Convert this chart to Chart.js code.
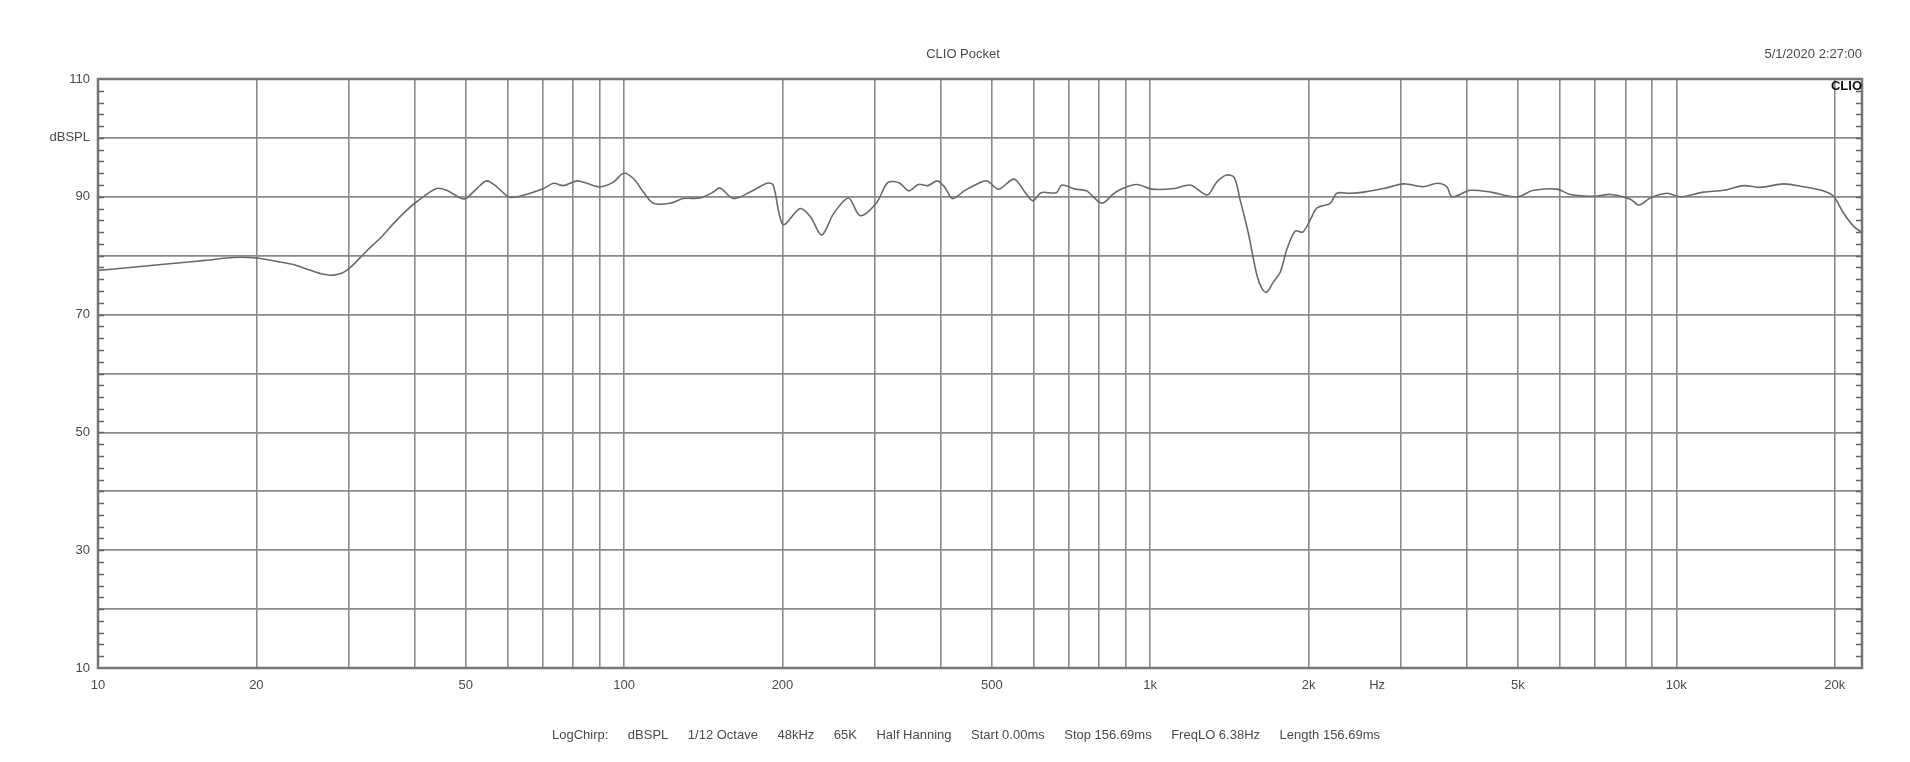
<!DOCTYPE html>
<html>
<head>
<meta charset="utf-8">
<title>CLIO Pocket</title>
<script src="https://cdn.jsdelivr.net/npm/chart.js@4.4.1/dist/chart.umd.min.js"></script>
<style>
  html, body { margin: 0; padding: 0; background: #fff; }
  canvas { display: block; }
</style>
</head>
<body>
<canvas id="resp" width="1910" height="762"></canvas>
<script>
// header / footer text
const chartTitle = 'CLIO Pocket';
const stampText = '5/1/2020 2:27:00';
const brandText = 'CLIO';
const infoItems = ['LogChirp:', 'dBSPL', '1/12 Octave', '48kHz', '65K', 'Half Hanning',
  'Start 0.00ms', 'Stop 156.69ms', 'FreqLO 6.38Hz', 'Length 156.69ms'];

// axes
const freqMin = 10;
const freqMax = 22540;
const gridFreqs = [10, 20, 30, 40, 50, 60, 70, 80, 90,
  100, 200, 300, 400, 500, 600, 700, 800, 900,
  1000, 2000, 3000, 4000, 5000, 6000, 7000, 8000, 9000,
  10000, 20000];
const freqLabelValues = [10, 20, 50, 100, 200, 500, 1000, 2000, 5000, 10000, 20000];
const freqLabelTexts = ['10', '20', '50', '100', '200', '500', '1k', '2k', '5k', '10k', '20k'];
const hzLabelFreq = 2700;
const splMin = 10;
const splMax = 110;
const splLabelValues = [10, 30, 50, 70, 90, 100, 110];
const splLabelTexts = ['10', '30', '50', '70', '90', 'dBSPL', '110'];

// response curve
const freqs = [10, 11.5, 13.5, 16, 18.1, 20, 22, 23.5, 25, 26.4, 28, 29.7, 32.4, 34.4, 36.4, 38.5, 40.4,
  44, 46, 48.8, 50, 52.5, 54.8, 57.3, 60.3, 63.4, 70.3, 73.4, 76.7, 81.3, 84.9, 90, 95.4, 99.8,
  104.2, 108.8, 113.7, 122.2, 129.6, 139.4, 147.8, 152.2, 161.3, 173.6, 186.8, 192, 200.5, 216, 226,
  237.5, 250, 267, 281, 302, 317, 333, 347.6, 362.5, 378, 394, 407, 421, 443, 474, 490, 515, 551,
  579, 599, 620, 663, 679, 720, 757, 809, 851, 880, 942, 1007, 1113, 1191, 1284, 1338, 1396, 1444,
  1483, 1536, 1595, 1631, 1665, 1716, 1767, 1819, 1887, 1950, 2015, 2075, 2199, 2264, 2399, 2544,
  2777, 3030, 3308, 3508, 3664, 3745, 4059, 4431, 4977, 5355, 5932, 6288, 7000, 7491, 8176, 8495,
  8925, 9600, 10180, 11270, 12300, 13430, 14450, 16000, 17460, 19050, 19900, 20800, 21730, 22540];
const spl = [77.5, 78.0, 78.6, 79.2, 79.7, 79.6, 79.0, 78.5, 77.7, 77.0, 76.7, 77.5, 80.8, 83.0, 85.4, 87.6, 89.2,
  91.4, 91.1, 89.8, 89.7, 91.4, 92.7, 91.7, 90.0, 90.1, 91.4, 92.3, 91.9, 92.7, 92.3, 91.7, 92.5, 94.0,
  93.1, 90.8, 88.9, 88.9, 89.7, 89.8, 90.8, 91.5, 89.7, 90.8, 92.3, 92.0, 85.3, 88.0, 86.6,
  83.5, 87.1, 89.8, 86.8, 89.0, 92.4, 92.4, 91.0, 92.1, 91.9, 92.7, 91.6, 89.7, 91.0, 92.4, 92.7, 91.3, 93.0,
  90.7, 89.3, 90.7, 90.7, 92.0, 91.3, 91.0, 88.9, 90.5, 91.3, 92.1, 91.3, 91.4, 92.0, 90.3, 92.5, 93.7, 93.3,
  89.4, 83.9, 76.7, 74.4, 73.8, 75.6, 77.2, 81.1, 84.2, 84.0, 86.1, 88.1, 88.9, 90.6, 90.6, 90.8,
  91.4, 92.2, 91.7, 92.3, 91.7, 90.0, 91.1, 90.8, 90.0, 91.1, 91.3, 90.4, 90.1, 90.4, 89.6, 88.6,
  89.8, 90.6, 90.0, 90.8, 91.1, 91.9, 91.6, 92.2, 91.7, 91.0, 90.1, 87.2, 85.0, 83.9];

const FONT = '"Liberation Sans", Arial, sans-serif';
const TEXT_COLOR = '#4a4a4a';
const GRID_COLOR = '#8a8a8a';

Chart.defaults.font.family = FONT;
Chart.defaults.font.size = 13;
Chart.defaults.color = TEXT_COLOR;

/**
 * Frame, inner minor ticks and all the loose text of the CLIO sheet
 */
const sheetPlugin = {
  id: 'clioSheet',
  beforeDraw(chart) {
    const { ctx, width, height } = chart;
    ctx.save();
    ctx.fillStyle = '#fff';
    ctx.fillRect(0, 0, width, height);
    ctx.restore();
  },
  afterDraw(chart) {
    const { ctx, chartArea: area, scales } = chart;
    const yScale = scales.y;
    const xScale = scales.x;
    ctx.save();

    // plot frame
    ctx.strokeStyle = '#777';
    ctx.lineWidth = 2.5;
    ctx.strokeRect(area.left, area.top, area.right - area.left, area.bottom - area.top);

    // minor ticks every 2 dB, pointing inward on both sides
    ctx.lineWidth = 1.5;
    ctx.strokeStyle = '#666';
    ctx.beginPath();
    for (let v = splMin + 2; v < splMax; v += 2) {
      const y = Math.round(yScale.getPixelForValue(v)) + 0.5;
      ctx.moveTo(area.left, y);
      ctx.lineTo(area.left + 6, y);
      ctx.moveTo(area.right - 6, y);
      ctx.lineTo(area.right, y);
    }
    ctx.stroke();

    // title and time stamp
    ctx.fillStyle = TEXT_COLOR;
    ctx.font = '13px ' + FONT;
    ctx.textBaseline = 'middle';
    ctx.textAlign = 'center';
    ctx.fillText(chartTitle, 963, 54);
    ctx.textAlign = 'right';
    ctx.fillText(stampText, area.right, 54);

    // brand mark in the corner
    ctx.fillStyle = '#111';
    ctx.font = 'bold 13px ' + FONT;
    ctx.fillText(brandText, area.right, area.top + 7);

    // unit label on the frequency axis
    ctx.fillStyle = TEXT_COLOR;
    ctx.font = '13px ' + FONT;
    ctx.textAlign = 'center';
    ctx.fillText('Hz', xScale.getPixelForValue(hzLabelFreq), area.bottom + 17);

    // measurement settings line
    const widths = infoItems.map(t => ctx.measureText(t).width);
    const span = 828;
    const gap = (span - widths.reduce((a, b) => a + b, 0)) / (infoItems.length - 1);
    let x = 552;
    ctx.textAlign = 'left';
    infoItems.forEach((t, i) => {
      ctx.fillText(t, x, 735);
      x += widths[i] + gap;
    });

    ctx.restore();
  }
};

const chart = new Chart(document.getElementById('resp').getContext('2d'), {
  type: 'line',
  data: {
    datasets: [
      {
        label: 'dBSPL',
        data: freqs.map((f, i) => ({ x: f, y: spl[i] })),
        borderColor: '#6a6a6a',
        borderWidth: 1.6,
        pointRadius: 0,
        tension: 0.3,
        fill: false
      }
    ]
  },
  options: {
    responsive: false,
    animation: false,
    layout: { padding: { left: 0, right: 48, top: 79, bottom: 0 } },
    plugins: {
      legend: { display: false },
      tooltip: { enabled: false },
      title: { display: false }
    },
    scales: {
      x: {
        type: 'logarithmic',
        min: freqMin,
        max: freqMax,
        afterBuildTicks: scale => {
          scale.ticks = gridFreqs.map(v => ({ value: v }));
        },
        afterFit: scale => { scale.height = 94; },
        grid: { color: GRID_COLOR, lineWidth: 1.6, drawTicks: false },
        border: { display: false },
        ticks: {
          autoSkip: false,
          maxRotation: 0,
          padding: 10,
          color: TEXT_COLOR,
          font: { size: 13 },
          callback: v => {
            const i = freqLabelValues.indexOf(v);
            return i >= 0 ? freqLabelTexts[i] : '';
          }
        }
      },
      y: {
        min: splMin,
        max: splMax,
        afterFit: scale => { scale.width = 98; },
        grid: { color: GRID_COLOR, lineWidth: 1.8, drawTicks: false },
        border: { display: false },
        ticks: {
          stepSize: 10,
          padding: 8,
          color: TEXT_COLOR,
          font: { size: 13 },
          callback: v => {
            const i = splLabelValues.indexOf(v);
            return i >= 0 ? splLabelTexts[i] : '';
          }
        }
      }
    }
  },
  plugins: [sheetPlugin]
});
</script>
</body>
</html>
